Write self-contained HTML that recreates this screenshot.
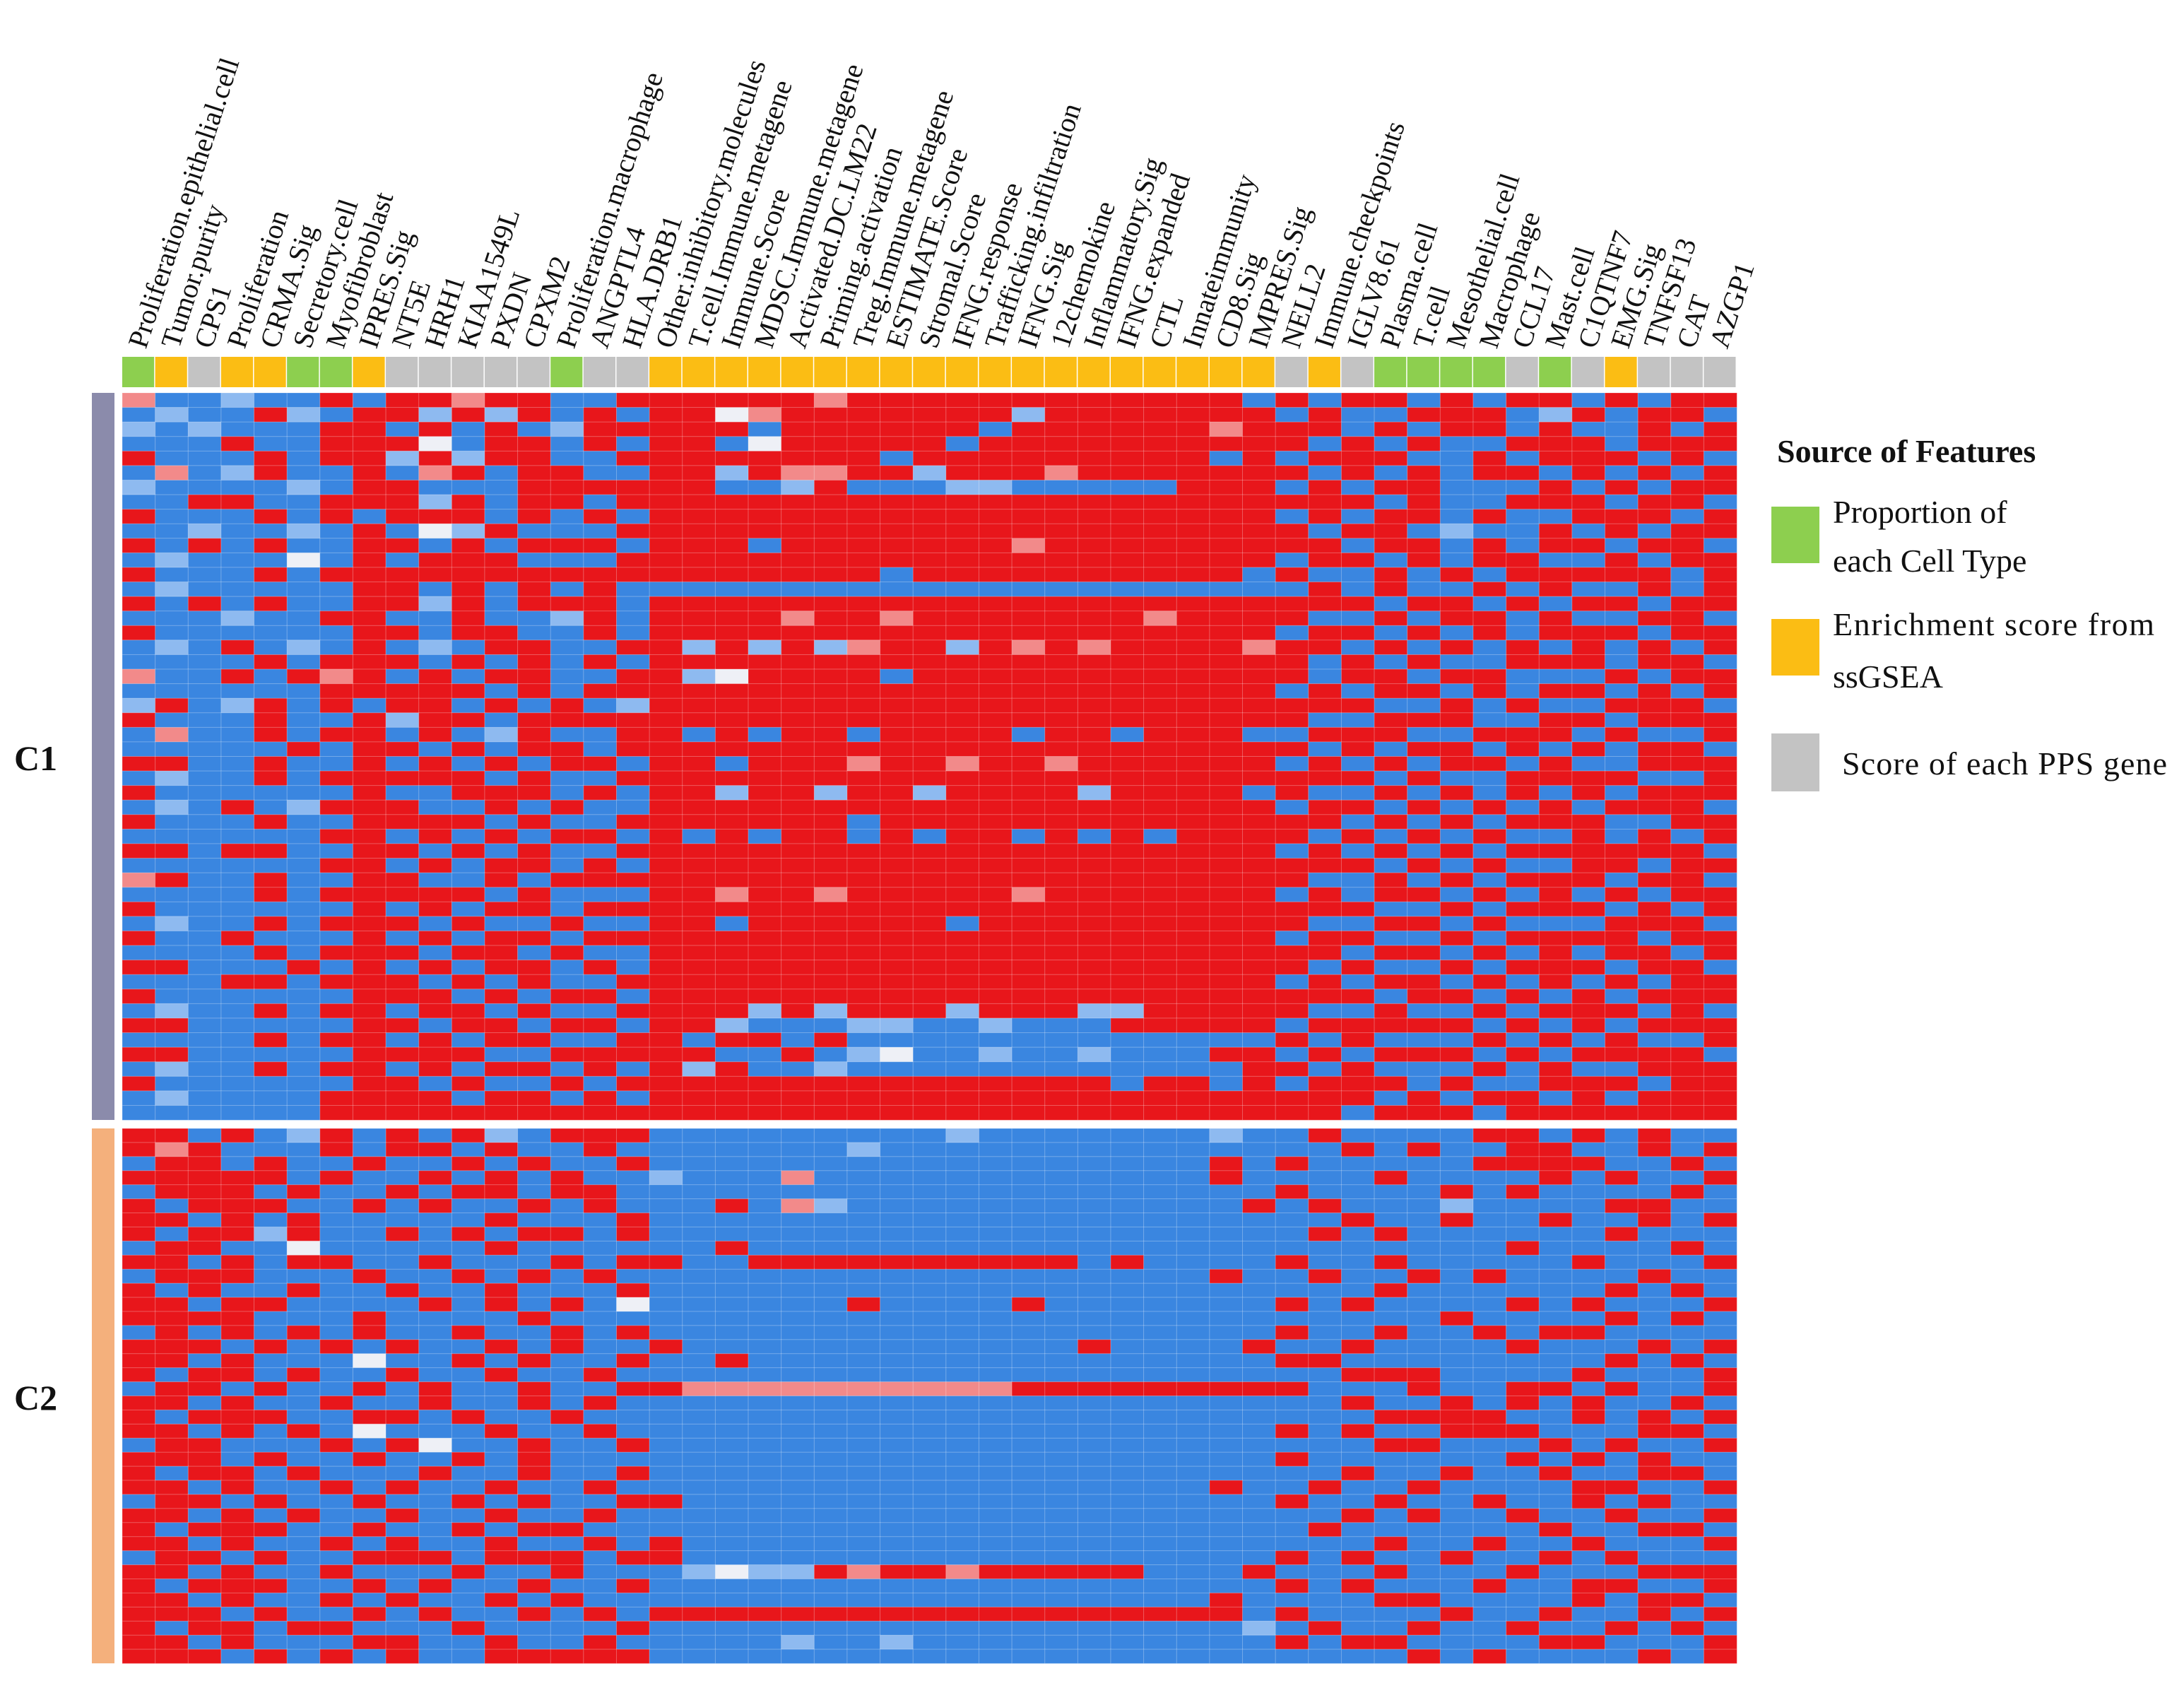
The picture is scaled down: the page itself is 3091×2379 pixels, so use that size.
<!DOCTYPE html>
<html><head><meta charset="utf-8"><style>
html,body{margin:0;padding:0;background:#fff;}
svg{display:block;font-family:"Liberation Serif","DejaVu Serif",serif;}
text{font-family:"Liberation Serif","DejaVu Serif",serif;fill:#111;}
</style></head><body>
<svg id="chart" width="3091" height="2379" viewBox="0 0 3091 2379" xmlns="http://www.w3.org/2000/svg" font-family="Liberation Serif, DejaVu Serif, serif">
<g id="labels"></g>
<g id="anno"></g>
<g id="cells"></g>
<rect x="130" y="556" width="32" height="1029" fill="#8b8bab"/>
<rect x="130" y="1597" width="32" height="757" fill="#f4b07c"/>
<text x="20" y="1090" font-size="50" font-weight="bold">C1</text>
<text x="20" y="1995" font-size="50" font-weight="bold">C2</text>
<g>
<text x="2515" y="654" font-size="46" font-weight="bold">Source of Features</text>
<rect x="2507" y="717" width="68" height="80" fill="#8dcf4f"/>
<text x="2594" y="740" font-size="46">Proportion of</text>
<text x="2594" y="809" font-size="46">each Cell Type</text>
<rect x="2507" y="876" width="68" height="80" fill="#fbbd14"/>
<text x="2594" y="899" font-size="46" textLength="455">Enrichment score from</text>
<text x="2594" y="973" font-size="46">ssGSEA</text>
<rect x="2507" y="1038" width="68" height="82" fill="#c3c3c3"/>
<text x="2607" y="1096" font-size="46" textLength="460">Score of each PPS gene</text>
</g>
</svg>
<script>
const columns = ["Proliferation.epithelial.cell","Tumor.purity","CPS1","Proliferation","CRMA.Sig","Secretory.cell","Myofibroblast","IPRES.Sig","NT5E","HRH1","KIAA1549L","PXDN","CPXM2","Proliferation.macrophage","ANGPTL4","HLA.DRB1","Other.inhibitory.molecules","T.cell.Immune.metagene","Immune.Score","MDSC.Immune.metagene","Activated.DC.LM22","Priming.activation","Treg.Immune.metagene","ESTIMATE.Score","Stromal.Score","IFNG.response","Trafficking.infiltration","IFNG.Sig","12chemokine","Inflammatory.Sig","IFNG.expanded","CTL","Innateimmunity","CD8.Sig","IMPRES.Sig","NELL2","Immune.checkpoints","IGLV8.61","Plasma.cell","T.cell","Mesothelial.cell","Macrophage","CCL17","Mast.cell","C1QTNF7","EMG.Sig","TNFSF13","CAT","AZGP1"];
const sources = "goxooggoxxxxxgxx" + "ooooooooooooooooooo" + "xoxggggxgxoxxx";
const c1Rows = [
"3001 0040 4434 4004 4444 4344 4444 4444 440 4044 0404 4040 44",
"0100 4104 4141 4040 4423 4444 4441 4444 444 0400 4440 1404 40",
"1010 0044 0404 0144 4440 4444 4404 4444 434 4404 0440 4004 04",
"0004 0044 4204 4040 4402 4444 4044 4444 444 4040 4004 4404 44",
"4000 4044 1414 4004 4444 4440 4444 4444 404 0444 0040 4440 40",
"0301 4004 0340 4400 4414 3344 1444 3444 444 4040 4044 0404 04",
"1000 0104 4000 4444 4400 1400 0110 0000 444 0404 4000 4040 44",
"0044 0044 4140 4404 4444 4444 4444 4444 444 4440 4004 4404 40",
"4000 4040 4440 4040 4444 4444 4444 4444 444 0404 4040 0444 04",
"0010 0104 0214 0004 4444 4444 4444 4444 444 4044 0100 4040 44",
"4040 4004 4040 4440 4440 4444 4443 4444 444 4404 4040 4404 40",
"0100 0204 0444 0004 4444 4444 4444 4444 444 0440 4044 0040 44",
"4000 4044 4444 4444 4444 4440 4444 4444 440 4004 0404 4444 04",
"0100 0004 4040 4040 0000 0000 0000 0000 000 0404 0040 4004 04",
"4040 4004 4140 4440 4444 4444 4444 4444 444 4440 4404 0440 44",
"0001 0044 0040 0140 4444 3443 4444 4443 444 4004 0440 4004 40",
"4000 0004 4044 0040 4444 4444 4444 4444 444 0440 4040 4440 44",
"0104 0104 0104 4004 4141 4134 4143 4344 443 4404 0404 0404 04",
"0000 4044 4040 4040 4444 4444 4444 4444 444 4040 4004 4404 40",
"3004 0434 0404 4004 4124 4440 4444 4444 444 4044 0440 0040 44",
"0000 0044 4440 4044 4444 4444 4444 4444 444 0404 4040 4404 04",
"1401 4040 4404 0401 4444 4444 4444 4444 444 4440 0404 0044 40",
"4000 4004 1440 4444 4444 4444 4444 4444 444 4004 4400 4404 44",
"0300 4044 0401 4004 4040 4404 4440 4404 440 0444 0044 4040 04",
"0000 0404 4040 4404 4444 4444 4444 4444 444 4040 4404 0404 40",
"4400 4004 0404 0440 4404 4434 4344 3444 444 0404 0440 4004 44",
"0100 4044 4440 4004 4444 4444 4444 4444 444 4440 4004 4440 04",
"4000 0004 0044 4040 4414 4144 1444 4144 440 4004 0404 0404 44",
"0104 0144 4004 0400 4444 4444 4444 4444 444 0440 4040 4044 40",
"4000 4004 4440 4004 4444 4404 4444 4444 444 4404 0404 4400 44",
"0000 0044 0404 0440 4040 4404 0440 4040 444 4040 4040 0404 04",
"4404 4004 4040 4004 4444 4444 4444 4444 444 0404 0404 4444 40",
"0000 0044 0404 4040 4444 4444 4444 4444 444 4440 4040 0440 44",
"3400 4004 4004 0444 4444 4444 4444 4444 444 4004 0404 4404 40",
"0000 4044 4440 4000 4434 4344 4443 4444 444 0404 4040 4040 44",
"4000 0004 0404 4044 4444 4444 4444 4444 444 4440 0404 4404 04",
"0100 4044 4040 0400 4404 4444 4044 4444 444 4004 4040 0044 40",
"4004 0004 0404 4044 4444 4444 4444 4444 444 0440 0404 4440 44",
"0000 4044 4044 0400 4444 4444 4444 4444 444 4404 4040 4044 04",
"4400 0404 0404 4040 4444 4444 4444 4444 444 4040 0404 4404 40",
"0004 4044 4040 4004 4444 4444 4444 4444 444 0404 4040 4040 44",
"4000 0004 4404 0440 4444 4444 4444 4444 444 4440 4404 0404 44",
"0100 4044 0440 4004 4441 4144 4144 4114 444 4004 0040 4440 40",
"4400 0004 4044 0440 4410 0011 0010 0044 444 0444 4404 0404 44",
"0000 4044 0404 4004 4044 0400 0000 0000 000 4040 0040 4040 04",
"4400 0004 4440 0444 4400 4012 0010 0100 044 0404 4404 0444 40",
"0100 4044 0404 4040 4140 0100 0000 0000 004 4040 0040 4004 44",
"4000 0004 4040 0404 4444 4444 4444 4404 404 0444 0400 4440 44",
"0100 0044 4404 4040 4444 4444 4444 4444 444 4440 4044 0404 44",
"0000 0044 4444 4444 4444 4444 4444 4444 444 4404 4404 4444 44"
];
const c2Rows = [
"4404 0140 4041 0444 0000 0000 0100 0000 010 0400 0044 0404 00",
"4340 0040 4404 0040 0000 0010 0000 0000 000 0040 4004 4004 04",
"0440 4004 0040 4004 0000 0000 0000 0000 040 4000 0044 4400 40",
"4444 4040 0404 0400 1000 3000 0000 0000 040 0004 0000 4040 04",
"0444 0400 4044 0440 0000 0000 0000 0000 000 4000 0404 0000 40",
"4044 4004 0400 4040 0040 3100 0000 0000 004 0400 0100 0044 00",
"4404 0400 0004 0004 0000 0000 0000 0000 000 0040 0400 4004 04",
"4044 1400 4040 4404 0000 0000 0000 0000 000 0404 0000 0040 00",
"0440 0200 0004 0000 0040 0000 0000 0000 000 0000 0004 0000 40",
"4404 0440 0400 0404 4004 4444 4444 4040 000 4004 0000 0400 04",
"0444 0004 0040 4040 0000 0000 0000 0000 040 0400 4040 0004 00",
"4040 0400 4004 0004 0000 0000 0000 0000 000 0004 0000 0040 40",
"4404 4000 0404 0402 0000 0040 0004 0000 000 4040 0004 0400 04",
"4444 0004 0000 4000 0000 0000 0000 0000 000 0000 0400 0040 40",
"0404 0404 0040 0404 0000 0000 0000 0000 000 4004 0040 4400 00",
"4440 4040 4004 0400 4000 0000 0000 0400 004 0040 0004 0004 04",
"4404 0002 0040 4004 0040 0000 0000 0000 000 4400 0000 0040 40",
"4044 0400 4004 0040 0000 0000 0000 0000 000 0044 4000 0400 04",
"0440 4004 0400 4004 4333 3333 3334 4444 444 4000 4004 4040 04",
"4404 0040 0400 4040 0000 0000 0000 0000 000 0040 0404 0400 40",
"4044 4004 4040 0400 0000 0000 0000 0000 000 0004 4440 0404 04",
"4404 0402 0004 0040 0000 0000 0000 0000 000 4040 0444 0004 40",
"0440 0040 4200 4004 0000 0000 0000 0000 000 0004 4000 4040 04",
"4440 4004 0040 4000 0000 0000 0000 0000 000 4000 0004 0404 00",
"4044 0400 0400 4004 0000 0000 0000 0000 000 0040 0400 4004 40",
"4404 0040 4004 0040 0000 0000 0000 0000 040 0400 4000 0440 04",
"0440 4004 0040 4004 4000 0000 0000 0000 000 4004 0040 0404 00",
"4404 0400 4004 0040 0000 0000 0000 0000 000 0040 4004 0040 04",
"4044 4004 0040 4400 0000 0000 0000 0000 000 0400 0000 4004 40",
"4404 0040 4004 0040 4000 0000 0000 0000 000 0004 0040 0400 04",
"0440 4004 4404 4404 4000 0000 0000 0000 000 4040 0400 4040 00",
"4404 0040 0040 0400 0121 1434 4344 4440 004 0004 0004 0004 44",
"4044 4004 0400 4004 0000 0000 0000 0000 000 4040 0040 0440 04",
"4404 0040 4004 0400 0000 0000 0000 0000 040 0004 4000 0404 40",
"4440 4004 0400 4040 4444 4444 4444 4444 440 4000 0400 4004 04",
"4044 0440 0040 0004 0000 0000 0000 0000 001 0400 4004 0040 40",
"4404 0004 4004 0040 0000 1001 0000 0000 000 4044 0000 4400 04",
"4440 4040 4004 4444 0000 0000 0000 0000 000 0000 4040 0004 04"
];
const palette = ["#3a86e0","#8ebaf0","#eef0f6","#f28a8a","#e8161b"];
const srcColors = {g:"#8dcf4f", o:"#fbbd14", x:"#c3c3c3"};
const NS = "http://www.w3.org/2000/svg";
const X0 = 173, X1 = 2458;
const colW = (X1 - X0) / columns.length;
const xOf = i => X0 + i * colW;
function parse(r){ const s = r.replace(/[^0-4]/g,""); const a=[]; for(let i=0;i<columns.length;i++) a.push(+(s[i]||0)); return a; }
const cellsG = document.getElementById("cells");
function drawBlock(rows, y0, y1){
  const h = (y1 - y0) / rows.length;
  rows.forEach((r, ri) => {
    parse(r).forEach((v, ci) => {
      const rc = document.createElementNS(NS, "rect");
      rc.setAttribute("x", xOf(ci)); rc.setAttribute("y", y0 + ri*h);
      rc.setAttribute("width", colW + 0.3); rc.setAttribute("height", h + 0.3);
      rc.setAttribute("fill", palette[v]);
      rc.setAttribute("stroke", "rgba(255,255,255,0.25)"); rc.setAttribute("stroke-width", "1");
      
      
      cellsG.appendChild(rc);
    });
  });
}
drawBlock(c1Rows, 556, 1585);
drawBlock(c2Rows, 1597, 2354);
const annoG = document.getElementById("anno");
const labG = document.getElementById("labels");
columns.forEach((c, i) => {
  const r = document.createElementNS(NS, "rect");
  r.setAttribute("x", xOf(i)); r.setAttribute("y", 505);
  r.setAttribute("width", colW - 1.5); r.setAttribute("height", 43);
  r.setAttribute("fill", srcColors[sources[i]] || "#c3c3c3");
  
  
  annoG.appendChild(r);
  const t = document.createElementNS(NS, "text");
  const cx = xOf(i) + colW/2 + 10, cy = 495;
  t.setAttribute("x", cx); t.setAttribute("y", cy);
  t.setAttribute("font-size", "40");
  t.setAttribute("font-family", "Liberation Serif, DejaVu Serif, serif");
  t.setAttribute("transform", "rotate(-72 " + cx + " " + cy + ")");
  t.textContent = c;
  
  
  labG.appendChild(t);
});
</script>
</body></html>
